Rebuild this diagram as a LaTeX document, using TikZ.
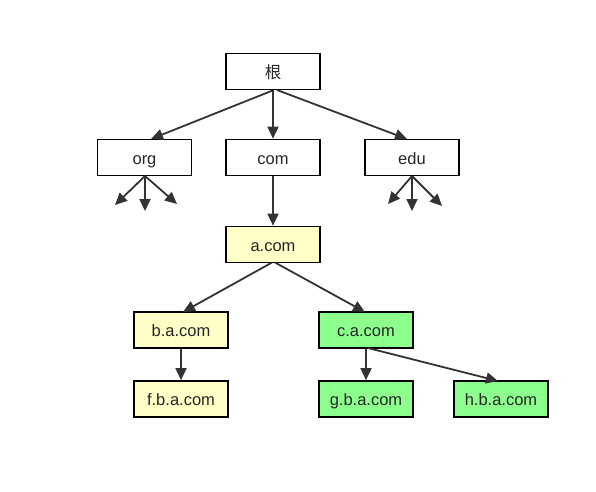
\documentclass[tikz,border=0pt]{standalone}
\usepackage{fontspec}
\setmainfont{Liberation Sans}
\newfontfamily\cjk{Noto Sans CJK SC}
\usetikzlibrary{arrows.meta}
\definecolor{lineC}{HTML}{333333}
\definecolor{yel}{HTML}{FFFFC8}
\definecolor{grn}{HTML}{8CFF8C}
\begin{document}
\begin{tikzpicture}[x=1pt,y=-1pt,
  box/.style={draw=black,line width=1.7pt,minimum width=94pt,minimum height=36pt,inner sep=0pt,text height=13pt,text depth=0pt,font=\fontsize{16.5}{18}\selectfont,text=black!85},
  ybox/.style={box,fill=yel},
  gbox/.style={box,fill=grn},
  arr/.style={draw=lineC,line width=1.8pt,-{Triangle[length=12pt,width=11pt]}}]
\useasboundingbox (0,0) rectangle (596,491);
\node[box] (root) at (273,71.5) {\cjk 根};
\node[box] (org) at (144.5,157.5) {org};
\node[box] (com) at (273,157.5) {com};
\node[box] (edu) at (412,157.5) {edu};
\node[ybox] (a) at (273,244.5) {a.com};
\node[ybox] (b) at (181,330) {b.a.com};
\node[gbox] (c) at (366,330) {c.a.com};
\node[ybox] (f) at (181,399) {f.b.a.com};
\node[gbox] (g) at (366,399) {g.b.a.com};
\node[gbox] (h) at (501,399) {h.b.a.com};
\coordinate (o1) at (115,205);
\coordinate (o2) at (145,211);
\coordinate (o3) at (177,204);
\coordinate (e1) at (388,204);
\coordinate (e2) at (412,211);
\coordinate (e3) at (442,206);
\draw[arr] (root.south) -- (151,139);
\draw[arr] (root.south) -- (com.north);
\draw[arr] (277,90) -- (407,139);
\draw[arr] (145,176) -- (o1);
\draw[arr] (145,176) -- (o2);
\draw[arr] (145,176) -- (o3);
\draw[arr] (412,176) -- (e1);
\draw[arr] (412,176) -- (e2);
\draw[arr] (412,176) -- (e3);
\draw[arr] (com.south) -- (a.north);
\draw[arr] (272,262.5) -- (183,312);
\draw[arr] (275,262.5) -- (365,312);
\draw[arr] (b.south) -- (f.north);
\draw[arr] (c.south) -- (g.north);
\draw[arr] (368,348) -- (498,381);
\end{tikzpicture}
\end{document}
